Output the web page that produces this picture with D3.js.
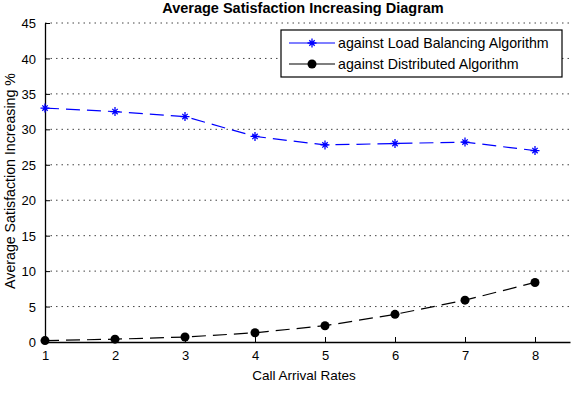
<!DOCTYPE html>
<html>
<head>
<meta charset="utf-8">
<script src="https://cdn.jsdelivr.net/npm/d3@7/dist/d3.min.js"></script>
<style>
    body { margin: 0; background: #fff; }
    svg { display: block; }
    text { font-family: "Liberation Sans", Arial, sans-serif; fill: #000; }
    .grid line { stroke: #444; stroke-dasharray: 1.5,4; }
</style>
</head>
<body>
<div id="chart"></div>
<script>
// data
const rates = [1, 2, 3, 4, 5, 6, 7, 8];
const loadBalancing = [33, 32.5, 31.8, 29, 27.8, 28, 28.2, 27];
const distributed = [0.2, 0.4, 0.7, 1.3, 2.3, 3.9, 5.9, 8.4];
const yTicks = [0, 5, 10, 15, 20, 25, 30, 35, 40, 45];
const xTicks = [1, 2, 3, 4, 5, 6, 7, 8];
const seriesNames = ["against Load Balancing Algorithm", "against Distributed Algorithm"];

const W = 571, H = 401;
const svg = d3.select("#chart").append("svg").attr("width", W).attr("height", H);

const x = d3.scaleLinear().domain([1, 8.5]).range([45, 570]);
const y = d3.scaleLinear().domain([0, 45]).range([342, 23]);

// horizontal dotted grid
svg.append("g").attr("class", "grid")
    .selectAll("line").data(yTicks.filter(d => d > 0)).join("line")
    .attr("x1", x(1)).attr("x2", x(8.5))
    .attr("y1", d => y(d)).attr("y2", d => y(d));

// axes, ticks pointing inwards like matlab
const xAxis = svg.append("g").attr("transform", `translate(0,${y(0)})`)
    .call(d3.axisBottom(x).tickValues(xTicks).tickSizeInner(-5).tickSizeOuter(0).tickPadding(10));
const yAxis = svg.append("g").attr("transform", `translate(${x(1)},0)`)
    .call(d3.axisLeft(y).tickValues(yTicks).tickSizeInner(-5).tickSizeOuter(0).tickPadding(9));
[xAxis, yAxis].forEach(a => {
    a.select(".domain").attr("stroke", "#000").attr("stroke-width", 1.3);
    a.selectAll(".tick line").attr("stroke", "#000");
    a.selectAll("text").attr("font-size", 13).attr("font-family", "Liberation Sans, Arial, sans-serif");
});
xAxis.selectAll(".tick text").attr("dy", "0.6em");
yAxis.selectAll(".tick text").attr("dy", "0.35em");

// lines
const line = d3.line().x((d, i) => x(rates[i])).y(d => y(d));

svg.append("path").datum(distributed)
    .attr("d", line).attr("fill", "none")
    .attr("stroke", "#000").attr("stroke-width", 1.2)
    .attr("stroke-dasharray", "14,7");

svg.append("path").datum(loadBalancing)
    .attr("d", line).attr("fill", "none")
    .attr("stroke", "#0000ff").attr("stroke-width", 1.2)
    .attr("stroke-dasharray", "14,7");

function asterisk(g, cx, cy, s) {
    g.append("path")
        .attr("d", `M${cx - s},${cy}H${cx + s}M${cx},${cy - s}V${cy + s}` +
            `M${cx - s * 0.6},${cy - s * 0.6}L${cx + s * 0.6},${cy + s * 0.6}` +
            `M${cx - s * 0.6},${cy + s * 0.6}L${cx + s * 0.6},${cy - s * 0.6}`)
        .attr("stroke", "#0000ff").attr("stroke-width", 1.3).attr("fill", "none");
}

const marks = svg.append("g");
loadBalancing.forEach((v, i) => asterisk(marks, x(rates[i]), y(v), 4.5));

svg.append("g").selectAll("circle").data(distributed).join("circle")
    .attr("cx", (d, i) => x(rates[i])).attr("cy", d => y(d))
    .attr("r", 4.5).attr("fill", "#000");

// legend
const lg = svg.append("g");
lg.append("rect").attr("x", 281).attr("y", 30).attr("width", 281).attr("height", 47)
    .attr("fill", "#fff").attr("stroke", "#000").attr("stroke-width", 1.2);
const rows = [43, 64];
lg.append("line").attr("x1", 289).attr("x2", 335).attr("y1", rows[0]).attr("y2", rows[0])
    .attr("stroke", "#0000ff").attr("stroke-width", 1.2);
asterisk(lg, 312, rows[0], 4.5);
lg.append("line").attr("x1", 289).attr("x2", 335).attr("y1", rows[1]).attr("y2", rows[1])
    .attr("stroke", "#000").attr("stroke-width", 1.2);
lg.append("circle").attr("cx", 312).attr("cy", rows[1]).attr("r", 4.5).attr("fill", "#000");
seriesNames.forEach((name, i) => {
    lg.append("text").attr("x", 338).attr("y", rows[i]).attr("dy", "0.35em")
        .attr("font-size", 14.2).text(name);
});

// titles
svg.append("text").attr("x", 303).attr("y", 13).attr("text-anchor", "middle")
    .attr("font-size", 14.5).attr("font-weight", "bold")
    .text("Average Satisfaction Increasing Diagram");
svg.append("text").attr("x", 304).attr("y", 380).attr("text-anchor", "middle")
    .attr("font-size", 13.5).text("Call Arrival Rates");
svg.append("text").attr("transform", "translate(15,181) rotate(-90)")
    .attr("text-anchor", "middle").attr("font-size", 14.2)
    .text("Average Satisfaction Increasing %");
</script>
</body>
</html>
